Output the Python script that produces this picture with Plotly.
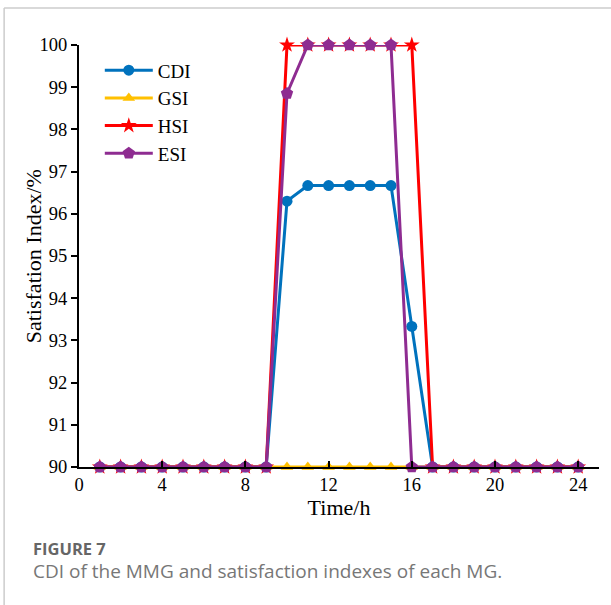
import plotly.graph_objects as go

hours = list(range(1, 25))
cdi = [90]*9 + [96.3, 96.67, 96.67, 96.67, 96.67, 96.67, 93.33] + [90]*8
gsi = [90]*24
hsi = [90]*9 + [100]*7 + [90]*8
esi = [90]*9 + [98.85, 100, 100, 100, 100, 100] + [90]*9

series = [
    ("CDI", cdi, "#0072BD", "circle", 11),
    ("GSI", gsi, "#FFC000", "triangle-up", 11),
    ("HSI", hsi, "#FF0000", "star", 12),
    ("ESI", esi, "#8E2C91", "pentagon", 13),
]

fig = go.Figure()
for name, vals, col, sym, sz in series:
    fig.add_trace(go.Scatter(
        x=hours, y=vals, name=name, mode="lines+markers",
        line=dict(color=col, width=3),
        marker=dict(symbol=sym, size=sz, color=col),
        cliponaxis=False,
    ))

font_serif = "Liberation Serif, Times New Roman, serif"
fig.update_layout(
    width=611, height=605,
    margin=dict(l=79, r=12, t=45, b=138),
    paper_bgcolor="white", plot_bgcolor="white",
    font=dict(family=font_serif, size=18, color="black"),
    showlegend=True,
    legend=dict(x=0.04, y=0.985, xanchor="left", yanchor="top",
                font=dict(family=font_serif, size=19), bgcolor="rgba(0,0,0,0)",
                tracegroupgap=0, itemwidth=48),
    xaxis=dict(range=[0, 25], tickvals=[0, 4, 8, 12, 16, 20, 24],
               showgrid=False, zeroline=False, showline=True,
               linecolor="black", linewidth=2, ticks="inside", ticklen=6,
               tickcolor="black", tickwidth=1.5,
               title=dict(text="Time/h", font=dict(size=22), standoff=3),
               tickfont=dict(size=18.5)),
    yaxis=dict(range=[90, 100], dtick=1, showgrid=False, zeroline=False,
               showline=True, linecolor="black", linewidth=2,
               ticks="outside", ticklen=6, tickcolor="black", tickwidth=1.5,
               tickfont=dict(size=18.5)),
    shapes=[
        dict(type="line", xref="paper", yref="paper", x0=-0.144, x1=1.05,
             y0=1.0877, y1=1.0877, line=dict(color="#cccccc", width=1.5)),
        dict(type="line", xref="paper", yref="paper", x0=-0.144, x1=-0.144,
             y0=1.0877, y1=-0.33, line=dict(color="#cccccc", width=1.5)),
    ],
    annotations=[
        dict(text="Satisfation Index/%", xref="paper", yref="paper", x=-0.088, y=0.5,
             xanchor="center", yanchor="middle", textangle=-90, showarrow=False,
             font=dict(family=font_serif, size=22, color="black")),
        dict(text="<b>FIGURE 7</b>", xref="paper", yref="paper", x=-0.092, y=-0.192,
             xanchor="left", yanchor="middle", showarrow=False,
             font=dict(family="Open Sans, sans-serif", size=16.5, color="#666666")),
        dict(text="CDI of the MMG and satisfaction indexes of each MG.", xref="paper", yref="paper",
             x=-0.092, y=-0.247, xanchor="left", yanchor="middle", showarrow=False,
             font=dict(family="Open Sans, sans-serif", size=19, color="#777777")),
    ],
)
fig.write_html("out.html")
